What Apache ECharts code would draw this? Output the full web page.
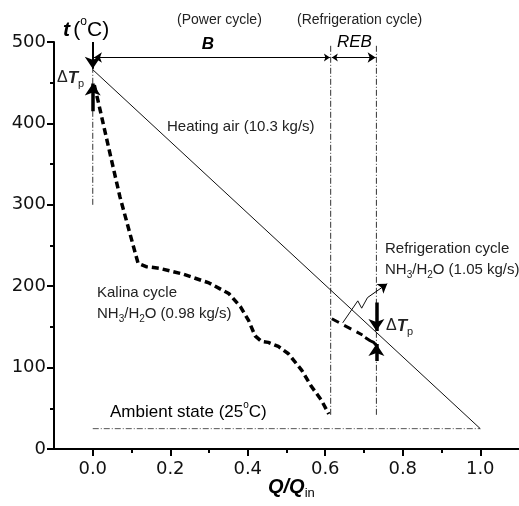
<!DOCTYPE html>
<html><head><meta charset="utf-8">
<script src="https://cdn.jsdelivr.net/npm/echarts@6/dist/echarts.min.js"></script>
<style>html,body{margin:0;padding:0;background:#fff}#c{width:519px;height:506px}</style>
</head><body><div id="c"></div>
<script>
// ---- data ----
const xMajorTicks = [0, 0.2, 0.4, 0.6, 0.8, 1.0];
const xMinorTicks = [0.1, 0.3, 0.5, 0.7, 0.9];
const heatingAir = [[0, 466], [1.0, 25]];
const ambient = [[0, 25], [1.0, 25]];
const kalina = [[0.004, 447], [0.014, 427], [0.044, 364], [0.07, 310], [0.117, 228], [0.138, 224], [0.172, 222],
  [0.232, 215], [0.30, 204], [0.351, 191], [0.381, 175], [0.402, 158], [0.419, 139], [0.436, 132], [0.453, 131],
  [0.479, 126], [0.505, 117], [0.539, 97], [0.564, 77], [0.59, 60], [0.609, 43]];
const refrigDashed = [[0.617, 160], [0.696, 140]];
const refrigSolid = [[0.703, 137], [0.716, 133], [0.725, 131], [0.732, 127]];
const vLine0 = [[0, 300], [0, 497]];
const vLineB = [[0.614, 42], [0.614, 497]];
const vLineR = [[0.732, 42], [0.732, 497]];
const arrowB = [[0.612, 481], [0.003, 481]];
const arrowREB = [[0.617, 481], [0.730, 481]];
const dtLeftDown = [[0, 500], [0, 467]];
const dtLeftUp = [[0, 415], [0, 449]];
const dtRightDown = [[0.732, 180], [0.732, 145]];
const dtRightUp = [[0.732, 108], [0.732, 129]];
const zigzag = [[0.645, 155], [0.684, 182], [0.694, 173], [0.709, 186]];
const zigArrow = [[0.709, 186], [0.760, 203]];

const chart = echarts.init(document.getElementById('c'), null, {renderer: 'canvas'});
const TXT = '#222';
const SANS = 'Liberation Sans, Arial, sans-serif';
const NUM = 'DejaVu Sans, sans-serif';
function lineS(data, style) {
  return {type: 'line', data: data, showSymbol: false, symbol: 'none', silent: true, animation: false,
    lineStyle: Object.assign({color: '#000', width: 1}, style), z: 3};
}
function arrowS(coords, style, symbol, size) {
  return {type: 'lines', coordinateSystem: 'cartesian2d', silent: true, animation: false,
    symbol: symbol, symbolSize: size, z: 4,
    lineStyle: Object.assign({color: '#000', width: 1, opacity: 1}, style),
    data: [{coords: coords}]};
}
const dashDot = [6, 2, 1, 2];
const option = {
  backgroundColor: '#fff',
  animation: false,
  grid: {left: 54, right: -3, top: 42, bottom: 57, containLabel: false},
  xAxis: [{
    type: 'value', min: -0.1, max: 1.1, position: 'bottom',
    axisLine: {show: true, onZero: false, lineStyle: {color: '#000', width: 2}},
    axisTick: {show: true, customValues: xMajorTicks, length: 7, lineStyle: {color: '#000', width: 2}},
    axisLabel: {show: true, customValues: xMajorTicks, formatter: v => v.toFixed(1), fontSize: 18, fontFamily: NUM, color: '#111', margin: 11},
    splitLine: {show: false}
  }, {
    type: 'value', min: -0.1, max: 1.1, position: 'bottom',
    axisLine: {show: false},
    axisTick: {show: true, customValues: xMinorTicks, length: 4, lineStyle: {color: '#000', width: 2}},
    axisLabel: {show: false},
    splitLine: {show: false}
  }],
  yAxis: {
    type: 'value', min: 0, max: 500, interval: 100,
    axisLine: {show: true, onZero: false, lineStyle: {color: '#000', width: 2}},
    axisTick: {show: true, length: 7, lineStyle: {color: '#000', width: 2}},
    minorTick: {show: true, splitNumber: 2, length: 4, lineStyle: {color: '#000', width: 2}},
    axisLabel: {fontSize: 18, fontFamily: NUM, color: '#111', margin: 8},
    splitLine: {show: false}
  },
  series: [
    lineS(ambient, {color: '#555', width: 1, type: dashDot}),
    lineS(vLine0, {color: '#333', width: 1, type: dashDot}),
    lineS(vLineB, {color: '#333', width: 1, type: dashDot}),
    lineS(vLineR, {color: '#333', width: 1, type: dashDot}),
    lineS(heatingAir, {color: '#111', width: 1}),
    lineS(kalina, {color: '#000', width: 3.5, type: [7, 4]}),
    lineS(refrigDashed, {color: '#000', width: 3, type: [8, 6]}),
    lineS(refrigSolid, {color: '#000', width: 3}),
    lineS(zigzag, {color: '#111', width: 1}),
    arrowS(arrowB, {width: 1}, ['arrow', 'arrow'], [6, 8]),
    arrowS(arrowREB, {width: 1}, ['arrow', 'arrow'], [6, 8]),
    arrowS(dtLeftDown, {width: 2}, ['none', 'arrow'], [7, 12]),
    arrowS(dtLeftUp, {width: 3.5}, ['none', 'arrow'], [8, 12]),
    arrowS(dtRightDown, {width: 3.5}, ['none', 'arrow'], [8, 12]),
    arrowS(dtRightUp, {width: 3.5}, ['none', 'arrow'], [8, 12]),
    arrowS(zigArrow, {width: 1}, ['none', 'arrow'], [6, 9])
  ],
  graphic: [
    {type: 'text', style: {x: 63, y: 30, verticalAlign: 'middle', fill: '#000',
      text: '{it|t} {n|(}{sup|o}{n|C)}',
      rich: {it: {fontSize: 21, fontStyle: 'italic', fontWeight: 'bold', fontFamily: SANS, lineHeight: 28, fill: '#000'},
             n: {fontSize: 21, fontFamily: SANS, lineHeight: 28, fill: '#000'},
             sup: {fontSize: 12, fontFamily: SANS, verticalAlign: 'top', lineHeight: 12, fill: '#000'}}}},
    {type: 'text', style: {x: 268, y: 487, verticalAlign: 'middle', fill: '#000',
      text: '{it|Q/Q}{sub|in}',
      rich: {it: {fontSize: 20, fontStyle: 'italic', fontWeight: 'bold', fontFamily: SANS, lineHeight: 26, fill: '#000'},
             sub: {fontSize: 13, fontFamily: SANS, verticalAlign: 'bottom', lineHeight: 12, fill: '#000'}}}},
    {type: 'text', style: {x: 177, y: 20, verticalAlign: 'middle', text: '(Power cycle)', font: '14px ' + SANS, fill: TXT}},
    {type: 'text', style: {x: 297, y: 20, verticalAlign: 'middle', text: '(Refrigeration cycle)', font: '14px ' + SANS, fill: TXT}},
    {type: 'text', style: {x: 208, y: 44, align: 'center', verticalAlign: 'middle', text: 'B', font: 'italic bold 17px ' + SANS, fill: '#000'}},
    {type: 'text', style: {x: 337, y: 42, verticalAlign: 'middle', text: 'REB', font: 'italic 17px ' + SANS, fill: '#000'}},
    {type: 'text', style: {x: 57, y: 78, verticalAlign: 'middle', fill: TXT,
      text: '{n|Δ}{it|T}{sub|p}',
      rich: {n: {fontSize: 16, fontFamily: SANS, lineHeight: 22, fill: TXT},
             it: {fontSize: 17, fontStyle: 'italic', fontWeight: 'bold', fontFamily: SANS, lineHeight: 22, fill: TXT},
             sub: {fontSize: 11, fontFamily: SANS, verticalAlign: 'bottom', lineHeight: 11, fill: TXT}}}},
    {type: 'text', style: {x: 386, y: 326, verticalAlign: 'middle', fill: TXT,
      text: '{n|Δ}{it|T}{sub|p}',
      rich: {n: {fontSize: 16, fontFamily: SANS, lineHeight: 22, fill: TXT},
             it: {fontSize: 17, fontStyle: 'italic', fontWeight: 'bold', fontFamily: SANS, lineHeight: 22, fill: TXT},
             sub: {fontSize: 11, fontFamily: SANS, verticalAlign: 'bottom', lineHeight: 11, fill: TXT}}}},
    {type: 'text', style: {x: 167, y: 127, verticalAlign: 'middle', text: 'Heating air (10.3 kg/s)', font: '15px ' + SANS, fill: TXT}},
    {type: 'text', style: {x: 97, y: 293, verticalAlign: 'middle', text: 'Kalina cycle', font: '15px ' + SANS, fill: TXT}},
    {type: 'text', style: {x: 97, y: 314, verticalAlign: 'middle', fill: TXT,
      text: '{n|NH}{sub|3}{n|/H}{sub|2}{n|O (0.98 kg/s)}',
      rich: {n: {fontSize: 15, fontFamily: SANS, lineHeight: 20, fill: TXT},
             sub: {fontSize: 10, fontFamily: SANS, verticalAlign: 'bottom', lineHeight: 10, fill: TXT}}}},
    {type: 'text', style: {x: 385, y: 249, verticalAlign: 'middle', text: 'Refrigeration cycle', font: '15px ' + SANS, fill: TXT}},
    {type: 'text', style: {x: 385, y: 270, verticalAlign: 'middle', fill: TXT,
      text: '{n|NH}{sub|3}{n|/H}{sub|2}{n|O (1.05 kg/s)}',
      rich: {n: {fontSize: 15, fontFamily: SANS, lineHeight: 20, fill: TXT},
             sub: {fontSize: 10, fontFamily: SANS, verticalAlign: 'bottom', lineHeight: 10, fill: TXT}}}},
    {type: 'text', style: {x: 110, y: 412, verticalAlign: 'middle', fill: '#000',
      text: '{n|Ambient state (25}{sup|o}{n|C)}',
      rich: {n: {fontSize: 17, fontFamily: SANS, lineHeight: 24, fill: '#000'},
             sup: {fontSize: 10, fontFamily: SANS, verticalAlign: 'top', lineHeight: 10, fill: '#000'}}}}
  ]
};
chart.setOption(option);
</script>
</body></html>
